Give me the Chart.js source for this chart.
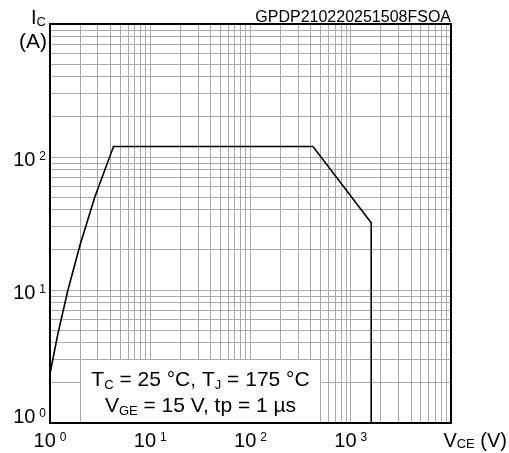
<!DOCTYPE html>
<html>
<head>
<meta charset="utf-8">
<script src="https://cdn.jsdelivr.net/npm/chart.js"></script>
<style>
  html, body { margin: 0; padding: 0; background: #fff; }
  canvas { display: block; }
</style>
</head>
<body>
<canvas id="soaChart" width="509" height="453"></canvas>
<script>
  // safe operating area
  var vce = [1, 1.2, 1.51, 2, 2.8, 4.3, 420, 1600, 1600];
  var ic = [2.35, 4.7, 10, 22, 50, 120, 120, 32, 1];

  var xTickValues = [1, 10, 100, 1000];
  var yTickValues = [1, 10, 100];
  var xRange = [1, 10000];
  var yRange = [1, 1000];

  var FONT = '"Liberation Sans", Arial, sans-serif';

  function logGrid(min, max) {
    var out = [];
    for (var d = min; d < max; d *= 10) {
      for (var k = 1; k < 10; k++) out.push(d * k);
    }
    out.push(max);
    return out.map(function (v) { return { value: v }; });
  }

  // draw a run of text pieces, each with its own size and baseline shift
  function drawRich(ctx, parts, x, y, align) {
    var total = 0;
    parts.forEach(function (p) {
      ctx.font = p.size + 'px ' + FONT;
      p.w = ctx.measureText(p.t).width;
      total += p.w;
    });
    var cx = x;
    if (align === 'center') cx = x - total / 2;
    if (align === 'right') cx = x - total;
    ctx.textAlign = 'left';
    ctx.textBaseline = 'alphabetic';
    parts.forEach(function (p) {
      ctx.font = p.size + 'px ' + FONT;
      ctx.fillText(p.t, cx, y + (p.dy || 0));
      cx += p.w;
    });
  }

  function powerLabel(e) {
    return [
      { t: '10', size: 20 },
      { t: ' ', size: 14 },
      { t: String(e), size: 12, dy: -6 }
    ];
  }

  var decor = {
    id: 'decor',
    beforeDatasetsDraw: function (chart) {
      var ctx = chart.ctx;
      var x = chart.scales.x, y = chart.scales.y;
      var a = chart.chartArea;
      // white note box over the grid
      var x0 = Math.round(x.getPixelForValue(2) - 0.5) + 1;
      var x1 = Math.round(x.getPixelForValue(500) - 0.5);
      var y0 = Math.round(y.getPixelForValue(3) - 0.5) + 1;
      ctx.save();
      ctx.fillStyle = '#fff';
      ctx.fillRect(x0, y0, x1 - x0, a.bottom - y0);
      ctx.fillStyle = '#000';
      var cx = (x0 + x1) / 2;
      drawRich(ctx, [
        { t: 'T', size: 21 }, { t: 'C', size: 13, dy: 3 },
        { t: ' = 25 °C, T', size: 21 }, { t: 'J', size: 13, dy: 3 },
        { t: ' = 175 °C', size: 21 }
      ], cx, 386, 'center');
      drawRich(ctx, [
        { t: 'V', size: 21 }, { t: 'GE', size: 13, dy: 3 },
        { t: ' = 15 V, tp = 1 µs', size: 21 }
      ], cx, 412, 'center');
      ctx.restore();
    },
    afterDraw: function (chart) {
      var ctx = chart.ctx;
      var x = chart.scales.x, y = chart.scales.y;
      var a = chart.chartArea;
      ctx.save();
      ctx.strokeStyle = '#000';
      ctx.lineWidth = 2;
      ctx.strokeRect(a.left, a.top, a.right - a.left, a.bottom - a.top);

      ctx.fillStyle = '#000';
      xTickValues.forEach(function (v) {
        drawRich(ctx, powerLabel(Math.round(Math.log10(v))), x.getPixelForValue(v), 447, 'center');
      });
      yTickValues.forEach(function (v) {
        var py = y.getPixelForValue(v);
        var base = Math.min(py + 8.5, a.bottom);
        drawRich(ctx, powerLabel(Math.round(Math.log10(v))), 46, base, 'right');
      });

      // axis titles
      drawRich(ctx, [{ t: 'I', size: 20 }, { t: 'C', size: 13, dy: 2 }], 31, 24, 'left');
      drawRich(ctx, [{ t: '(A)', size: 21 }], 47, 48, 'right');
      drawRich(ctx, [
        { t: 'V', size: 20 }, { t: 'CE', size: 13, dy: 1 }, { t: ' (V)', size: 20 }
      ], 507, 447, 'right');
      drawRich(ctx, [{ t: 'GPDP210220251508FSOA', size: 16 }], a.right, 22, 'right');
      ctx.restore();
    }
  };

  var ctx = document.getElementById('soaChart').getContext('2d');
  var soaChart = new Chart(ctx, {
    type: 'scatter',
    data: {
      datasets: [{
        data: vce.map(function (v, i) { return { x: v, y: ic[i] }; }),
        showLine: true,
        borderColor: '#000',
        borderWidth: 1.6,
        pointRadius: 0,
        tension: 0
      }]
    },
    options: {
      responsive: false,
      animation: false,
      devicePixelRatio: 1,
      layout: { padding: { left: 50, top: 24, right: 58, bottom: 30 } },
      plugins: { legend: { display: false }, tooltip: { enabled: false } },
      scales: {
        x: {
          type: 'logarithmic',
          min: xRange[0],
          max: xRange[1],
          afterBuildTicks: function (s) { s.ticks = logGrid(xRange[0], xRange[1]); },
          ticks: { display: false },
          grid: { color: '#a9a9a9', lineWidth: 1, drawTicks: false },
          border: { display: false }
        },
        y: {
          type: 'logarithmic',
          min: yRange[0],
          max: yRange[1],
          afterBuildTicks: function (s) { s.ticks = logGrid(yRange[0], yRange[1]); },
          ticks: { display: false },
          grid: { color: '#a9a9a9', lineWidth: 1, drawTicks: false },
          border: { display: false }
        }
      }
    },
    plugins: [decor]
  });
</script>
</body>
</html>
